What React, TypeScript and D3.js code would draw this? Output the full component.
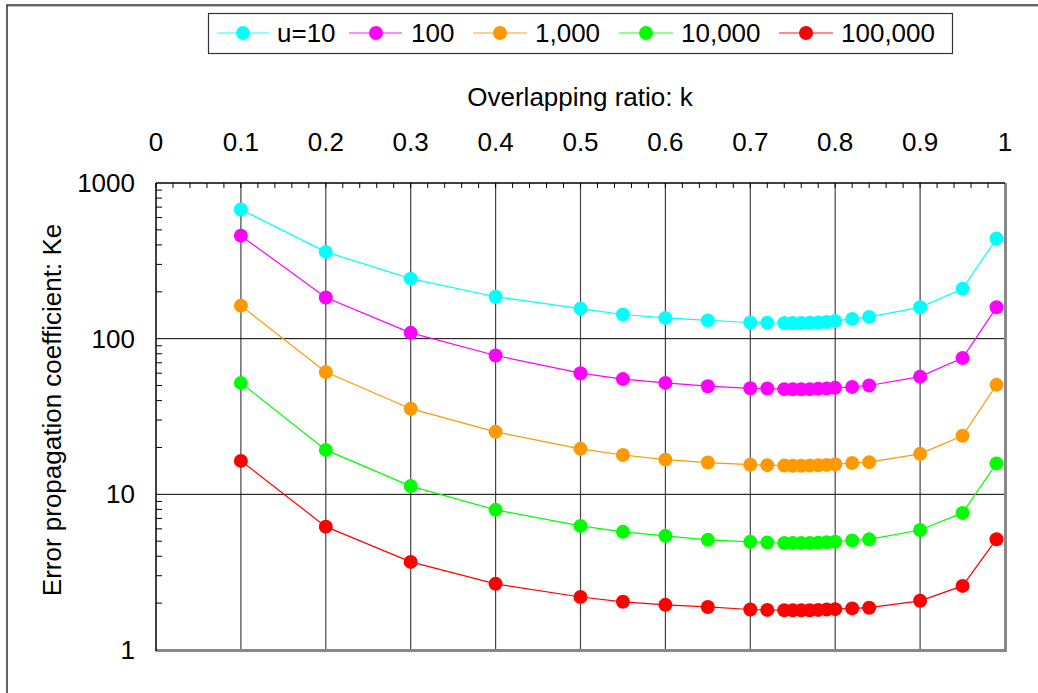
import React from "react";
import * as d3 from "d3";

const kValues = [0.1, 0.2, 0.3, 0.4, 0.5, 0.55, 0.6, 0.65, 0.7, 0.72, 0.74, 0.75, 0.76, 0.77, 0.78, 0.79, 0.8, 0.82, 0.84, 0.9, 0.95, 0.99];

const seriesNames = ["u=10", "100", "1,000", "10,000", "100,000"];
const seriesColors = ["#00ffff", "#ff00ff", "#ff9900", "#00ff00", "#ff0000"];

const keU10 = [676, 361, 243, 186, 156, 143, 136, 131, 127, 126.5, 126, 126, 126, 126.5, 127, 128, 130, 134, 138, 159, 209, 440];
const keU100 = [459, 184, 109, 78, 60, 55, 52, 49.5, 48, 47.8, 47.4, 47.3, 47.3, 47.4, 47.6, 47.9, 48.3, 49, 50, 57, 75, 159];
const keU1000 = [163, 61, 35.5, 25.2, 19.6, 17.9, 16.7, 16, 15.5, 15.4, 15.3, 15.25, 15.25, 15.3, 15.35, 15.45, 15.6, 15.9, 16.1, 18.2, 23.8, 50.5];
const keU10000 = [52, 19.3, 11.3, 7.95, 6.27, 5.74, 5.41, 5.1, 4.95, 4.9, 4.87, 4.86, 4.86, 4.87, 4.89, 4.92, 4.96, 5.05, 5.14, 5.9, 7.6, 15.8];
const keU100000 = [16.4, 6.2, 3.68, 2.66, 2.19, 2.04, 1.95, 1.89, 1.82, 1.81, 1.8, 1.8, 1.8, 1.8, 1.81, 1.82, 1.83, 1.85, 1.87, 2.07, 2.58, 5.15];

const seriesValues = [keU10, keU100, keU1000, keU10000, keU100000];

const xTicks = [0, 0.1, 0.2, 0.3, 0.4, 0.5, 0.6, 0.7, 0.8, 0.9, 1];
const xTickLabels = ["0", "0.1", "0.2", "0.3", "0.4", "0.5", "0.6", "0.7", "0.8", "0.9", "1"];
const yTicks = [1, 10, 100, 1000];
const yTickLabels = ["1", "10", "100", "1000"];

const xTitle = "Overlapping ratio: k";
const yTitle = "Error propagation coefficient: Ke";

export default function App() {
  const W = 1038;
  const H = 693;
  const left = 156, right = 1005, top = 183, bottom = 650;
  const x = d3.scaleLinear().domain([0, 1]).range([left, right]);
  const y = d3.scaleLog().domain([1, 1000]).range([bottom, top]);
  const font = "'Liberation Sans', Arial, sans-serif";
  const fs = 26;

  const minorX = d3.range(0, 51).map((i) => i / 50);
  const minorY: number[] = [];
  for (const dec of [1, 10, 100]) for (let m = 2; m <= 9; m++) minorY.push(dec * m);

  const line = d3
    .line<number>()
    .x((_, i) => x(kValues[i]))
    .y((v) => y(v));

  const legendItems = [
    { lx1: 217, lx2: 269, mx: 243, tx: 277 },
    { lx1: 349, lx2: 402, mx: 376, tx: 411 },
    { lx1: 473, lx2: 527, mx: 500, tx: 535 },
    { lx1: 619, lx2: 673, mx: 646, tx: 681 },
    { lx1: 779, lx2: 833, mx: 806, tx: 841 },
  ];

  return (
    <div style={{ position: "absolute", left: 0, top: 0 }}>
      <svg width={W} height={H} style={{ display: "block", background: "#fff" }} fontFamily={font}>
        <rect x={7} y={5} width={W + 20} height={H + 20} fill="#fff" stroke="#000" strokeWidth={1.2} />
        <line x1={8} x2={W} y1={6.5} y2={6.5} stroke="#bbb" strokeWidth={1} />

        {/* legend */}
        <rect x={208.5} y={13.5} width={744} height={40} fill="#fff" stroke="#333" strokeWidth={1.2} />
        {seriesNames.map((n, i) => (
          <g key={n}>
            <line x1={legendItems[i].lx1} x2={legendItems[i].lx2} y1={33} y2={33} stroke={seriesColors[i]} strokeWidth={1.5} opacity={0.6} />
            <circle cx={legendItems[i].mx} cy={33} r={7} fill={seriesColors[i]} />
            <text x={legendItems[i].tx} y={42} fontSize={fs} fill="#000">{n}</text>
          </g>
        ))}

        {/* x title */}
        <text x={580} y={106} fontSize={fs} textAnchor="middle">{xTitle}</text>
        {xTicks.map((t, i) => (
          <text key={t} x={x(t)} y={151} fontSize={fs} textAnchor="middle">{xTickLabels[i]}</text>
        ))}

        {/* y title */}
        <text transform={`translate(61,410) rotate(-90)`} fontSize={fs} textAnchor="middle">{yTitle}</text>
        {yTicks.map((t, i) => (
          <text key={t} x={135} y={y(t) + 9} fontSize={fs} textAnchor="end">{yTickLabels[i]}</text>
        ))}

        {/* gridlines */}
        {xTicks.slice(1, -1).map((t) => (
          <line key={"gx" + t} x1={x(t)} x2={x(t)} y1={top} y2={bottom} stroke="#444" strokeWidth={1.2} />
        ))}
        {[10, 100].map((t) => (
          <line key={"gy" + t} x1={left} x2={right} y1={y(t)} y2={y(t)} stroke="#000" strokeWidth={1} />
        ))}

        {/* minor ticks */}
        {minorX.map((t) => (
          <line key={"mx" + t} x1={x(t)} x2={x(t)} y1={top} y2={top + 5} stroke="#000" strokeWidth={1} />
        ))}
        {minorY.map((t) => (
          <line key={"my" + t} x1={left} x2={left + 6} y1={y(t)} y2={y(t)} stroke="#000" strokeWidth={1} />
        ))}

        {/* frame */}
        <line x1={left} x2={right + 1.5} y1={bottom + 0.5} y2={bottom + 0.5} stroke="#888" strokeWidth={3} />
        <line x1={right + 0.5} x2={right + 0.5} y1={top} y2={bottom + 2} stroke="#888" strokeWidth={3} />
        <line x1={left} x2={left} y1={top} y2={bottom + 1} stroke="#000" strokeWidth={1.5} />
        <line x1={left} x2={right} y1={top} y2={top} stroke="#000" strokeWidth={1.5} />

        {/* series */}
        {seriesValues.map((vals, si) => (
          <g key={"s" + si}>
            <path d={line(vals) || ""} fill="none" stroke={seriesColors[si]} strokeWidth={1.2} />
            {vals.map((v, i) => (
              <circle key={i} cx={x(kValues[i])} cy={y(v)} r={7} fill={seriesColors[si]} />
            ))}
          </g>
        ))}
      </svg>
    </div>
  );
}
